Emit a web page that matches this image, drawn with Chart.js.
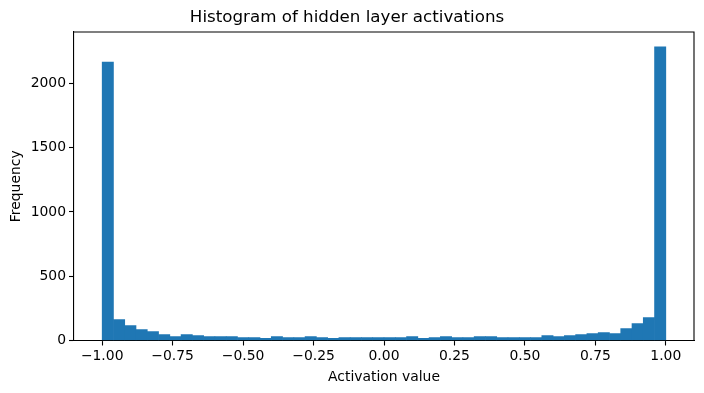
<!DOCTYPE html>
<html>
<head>
<meta charset="utf-8">
<title>Histogram of hidden layer activations</title>
<script src="https://cdn.jsdelivr.net/npm/chart.js@4.4.1/dist/chart.umd.min.js"></script>
<style>
	html, body { margin: 0; padding: 0; background: #fff; }
	#histograma { display: block; }
</style>
</head>
<body>
<canvas id="histograma" width="704" height="393"></canvas>
<script>
// centros das 50 classes (largura 0.04, de -1 a 1)
var binCenters = [
	-0.98, -0.94, -0.90, -0.86, -0.82, -0.78, -0.74, -0.70, -0.66, -0.62,
	-0.58, -0.54, -0.50, -0.46, -0.42, -0.38, -0.34, -0.30, -0.26, -0.22,
	-0.18, -0.14, -0.10, -0.06, -0.02, 0.02, 0.06, 0.10, 0.14, 0.18,
	0.22, 0.26, 0.30, 0.34, 0.38, 0.42, 0.46, 0.50, 0.54, 0.58,
	0.62, 0.66, 0.70, 0.74, 0.78, 0.82, 0.86, 0.90, 0.94, 0.98
];

var frequencies = [
	2165, 163, 117, 85, 70, 47, 31, 47, 39, 31,
	31, 31, 23, 23, 16, 31, 23, 23, 31, 23,
	16, 23, 23, 23, 23, 23, 23, 31, 16, 23,
	31, 23, 23, 31, 31, 23, 23, 23, 23, 39,
	31, 39, 47, 54, 62, 54, 93, 132, 179, 2285
];

var xTicks = [-1.00, -0.75, -0.50, -0.25, 0.00, 0.25, 0.50, 0.75, 1.00];
var yTicks = [0, 500, 1000, 1500, 2000];

var FONTE = 'DejaVu Sans';

// bordas de cima e da direita (as de baixo e esquerda vêm do border do eixo)
var molduraPlugin = {
	id: 'moldura',
	afterDraw: function(chart) {
		var a = chart.chartArea;
		var ctx = chart.ctx;
		ctx.save();
		ctx.strokeStyle = '#000';
		ctx.lineWidth = 1.1;
		ctx.beginPath();
		ctx.moveTo(a.left, a.top);
		ctx.lineTo(a.right, a.top);
		ctx.lineTo(a.right, a.bottom);
		ctx.stroke();
		ctx.restore();
	}
};

function formataX(v) {
	var s = Math.abs(v).toFixed(2);
	return v < 0 ? '\u2212' + s : s;
}

var pontos = binCenters.map(function(c, i) {
	return { x: c, y: frequencies[i] };
});

var yMax = Math.max.apply(null, frequencies) * 1.05;

new Chart(document.getElementById('histograma').getContext('2d'), {
	type: 'bar',
	data: {
		datasets: [{
			label: 'Activations',
			data: pontos,
			backgroundColor: '#1f77b4',
			borderWidth: 0,
			barPercentage: 1,
			categoryPercentage: 1,
			grouped: false
		}]
	},
	options: {
		responsive: false,
		animation: false,
		devicePixelRatio: 1,
		layout: { padding: { left: 0, right: 10, top: 0, bottom: 0 } },
		plugins: {
			legend: { display: false },
			tooltip: { enabled: false },
			title: {
				display: true,
				text: 'Histogram of hidden layer activations',
				color: '#000',
				font: { family: FONTE, size: 16.7, weight: 'normal' },
				padding: { top: 8, bottom: 4 }
			}
		},
		scales: {
			x: {
				type: 'linear',
				min: -1.1,
				max: 1.1,
				offset: false,
				afterBuildTicks: function(scale) {
					scale.ticks = xTicks.map(function(v) { return { value: v }; });
				},
				afterFit: function(scale) { scale.height = 52.5; },
				grid: { offset: false, drawOnChartArea: false, drawTicks: true, tickLength: 5, color: '#000', tickWidth: 1.1 },
				border: { display: true, color: '#000', width: 1.1 },
				ticks: {
					color: '#000',
					padding: 3,
					maxRotation: 0,
					autoSkip: false,
					font: { family: FONTE, size: 13.9 },
					callback: function(v) { return formataX(v); }
				},
				title: {
					display: true,
					text: 'Activation value',
					color: '#000',
					font: { family: FONTE, size: 13.9 },
					padding: { top: 0, bottom: 7.6 }
				}
			},
			y: {
				min: 0,
				max: yMax,
				afterBuildTicks: function(scale) {
					scale.ticks = yTicks.map(function(v) { return { value: v }; });
				},
				afterFit: function(scale) { scale.width = 74; },
				grid: { drawOnChartArea: false, drawTicks: true, tickLength: 5, color: '#000', tickWidth: 1.1 },
				border: { display: true, color: '#000', width: 1.1 },
				ticks: {
					color: '#000',
					padding: 3,
					autoSkip: false,
					font: { family: FONTE, size: 13.9 },
					callback: function(v) { return String(v); }
				},
				title: {
					display: true,
					text: 'Frequency',
					color: '#000',
					font: { family: FONTE, size: 13.9 },
					padding: { top: 8.5, bottom: 0 }
				}
			}
		}
	},
	plugins: [molduraPlugin]
});
</script>
</body>
</html>
